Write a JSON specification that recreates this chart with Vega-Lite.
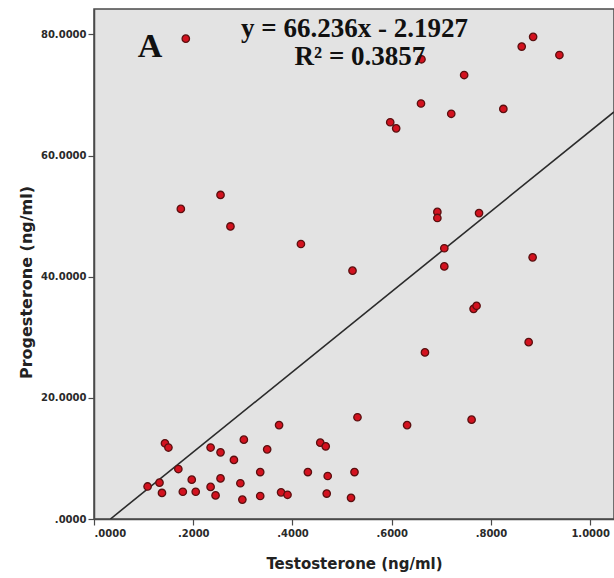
{
  "$schema": "https://vega.github.io/schema/vega-lite/v6.json",
  "autosize": "none",
  "width": 520,
  "height": 510,
  "padding": {"left": 94, "top": 9, "right": 0, "bottom": 59},
  "background": "white",
  "config": {
    "view": {"fill": "#e3e3e3", "stroke": "#4a4a4a", "strokeWidth": 1.5},
    "axis": {"grid": false, "domainColor": "#4a4a4a", "domainWidth": 1.5, "tickColor": "#4a4a4a", "tickWidth": 1.2, "tickSize": 6,
      "labelFont": "DejaVu Sans", "labelFontWeight": "bold", "labelFontSize": 10, "labelColor": "#2a2a2a",
      "titleFont": "DejaVu Sans", "titleFontWeight": "bold", "titleColor": "#222222"}
  },
  "datasets": {
    "pts": [
      {"t": 0.108, "p": 5.37}, {"t": 0.132, "p": 6.0}, {"t": 0.137, "p": 4.3}, {"t": 0.143, "p": 12.5},
      {"t": 0.150, "p": 11.8}, {"t": 0.170, "p": 8.25}, {"t": 0.179, "p": 4.5}, {"t": 0.197, "p": 6.5},
      {"t": 0.205, "p": 4.5}, {"t": 0.235, "p": 11.8}, {"t": 0.235, "p": 5.3}, {"t": 0.245, "p": 3.9},
      {"t": 0.255, "p": 11.0}, {"t": 0.255, "p": 6.7}, {"t": 0.282, "p": 9.75}, {"t": 0.295, "p": 5.9},
      {"t": 0.299, "p": 3.2}, {"t": 0.302, "p": 13.1}, {"t": 0.335, "p": 7.75}, {"t": 0.335, "p": 3.8},
      {"t": 0.349, "p": 11.5}, {"t": 0.373, "p": 15.5}, {"t": 0.377, "p": 4.4}, {"t": 0.390, "p": 4.0},
      {"t": 0.431, "p": 7.75}, {"t": 0.456, "p": 12.6}, {"t": 0.467, "p": 12.0}, {"t": 0.471, "p": 7.1},
      {"t": 0.469, "p": 4.2}, {"t": 0.518, "p": 3.5}, {"t": 0.525, "p": 7.75}, {"t": 0.531, "p": 16.8},
      {"t": 0.631, "p": 15.5}, {"t": 0.761, "p": 16.4},
      {"t": 0.175, "p": 51.2}, {"t": 0.255, "p": 53.5}, {"t": 0.275, "p": 48.3}, {"t": 0.417, "p": 45.4},
      {"t": 0.521, "p": 41.0}, {"t": 0.692, "p": 50.7}, {"t": 0.692, "p": 49.7}, {"t": 0.776, "p": 50.5},
      {"t": 0.706, "p": 44.7}, {"t": 0.706, "p": 41.7}, {"t": 0.884, "p": 43.2}, {"t": 0.765, "p": 34.7},
      {"t": 0.771, "p": 35.2}, {"t": 0.876, "p": 29.2}, {"t": 0.667, "p": 27.5},
      {"t": 0.185, "p": 79.3}, {"t": 0.660, "p": 75.9}, {"t": 0.746, "p": 73.3}, {"t": 0.659, "p": 68.6},
      {"t": 0.720, "p": 66.9}, {"t": 0.825, "p": 67.7}, {"t": 0.597, "p": 65.5}, {"t": 0.609, "p": 64.5},
      {"t": 0.862, "p": 78.0}, {"t": 0.885, "p": 79.6}, {"t": 0.938, "p": 76.6}
    ],
    "fit": [{"t": 0.0331, "p": 0}, {"t": 1.048, "p": 67.22}],
    "eq": [
      {"t": 0.525, "p": 79.6, "label": "y = 66.236x - 2.1927"},
      {"t": 0.536, "p": 75.0, "label": "R² = 0.3857"}
    ],
    "tag": [{"t": 0.113, "p": 76.2, "label": "A"}]
  },
  "layer": [
    {
      "data": {"name": "fit"},
      "mark": {"type": "line", "color": "#2b2b2b", "strokeWidth": 1.6, "clip": true},
      "encoding": {
        "x": {"field": "t", "type": "quantitative", "scale": {"domain": [0, 1.048], "nice": false, "zero": false},
          "axis": {"title": "Testosterone (ng/ml)", "values": [0, 0.2, 0.4, 0.6, 0.8, 1.0], "titleFontSize": 15, "titlePadding": 18, "labelPadding": 3,
            "labelExpr": "datum.value < 1 ? replace(format(datum.value, '.4f'), '0.', '.') : format(datum.value, '.4f')"}},
        "y": {"field": "p", "type": "quantitative", "scale": {"domain": [0, 84.2], "nice": false, "zero": false},
          "axis": {"title": "Progesterone (ng/ml)", "values": [0, 20, 40, 60, 80], "titleFontSize": 16, "titlePadding": 6, "labelPadding": 2, "titleY": 273,
            "labelExpr": "datum.value < 1 ? replace(format(datum.value, '.4f'), '0.', '.') : format(datum.value, '.4f')"}}
      }
    },
    {
      "data": {"name": "pts"},
      "mark": {"type": "point", "filled": true, "fill": "#d3121f", "stroke": "#5a1010", "strokeWidth": 1.3, "size": 55, "opacity": 1},
      "encoding": {
        "x": {"field": "t", "type": "quantitative"},
        "y": {"field": "p", "type": "quantitative"}
      }
    },
    {
      "data": {"name": "eq"},
      "mark": {"type": "text", "font": "Liberation Serif", "fontWeight": "bold", "fontSize": 27, "align": "center", "baseline": "alphabetic", "color": "#111111"},
      "encoding": {
        "x": {"field": "t", "type": "quantitative"},
        "y": {"field": "p", "type": "quantitative"},
        "text": {"field": "label"}
      }
    },
    {
      "data": {"name": "tag"},
      "mark": {"type": "text", "font": "Liberation Serif", "fontWeight": "bold", "fontSize": 34, "align": "center", "baseline": "alphabetic", "color": "#111111"},
      "encoding": {
        "x": {"field": "t", "type": "quantitative"},
        "y": {"field": "p", "type": "quantitative"},
        "text": {"field": "label"}
      }
    }
  ]
}
